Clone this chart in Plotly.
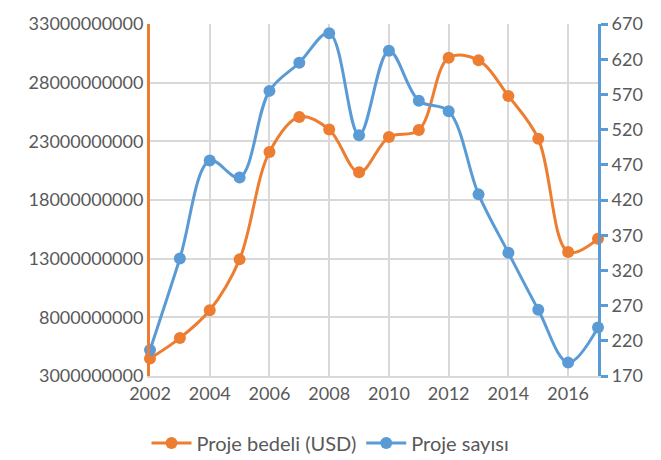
import plotly.graph_objects as go

years = list(range(2002, 2018))
proje_bedeli = [4.5e9, 6.23e9, 8.6e9, 12.94e9, 22.1e9, 25.08e9, 24.0e9, 20.36e9,
                23.37e9, 23.96e9, 30.13e9, 29.9e9, 26.87e9, 23.22e9, 13.56e9, 14.69e9]
proje_sayisi = [207, 337, 476, 452, 575, 615, 657, 512,
                632, 561, 546, 428, 345, 264, 189, 239]

left_ticks = [3000000000, 8000000000, 13000000000, 18000000000, 23000000000,
              28000000000, 33000000000]
right_ticks = [170, 220, 270, 320, 370, 420, 470, 520, 570, 620, 670]
x_ticks = [2002, 2004, 2006, 2008, 2010, 2012, 2014, 2016]

ORANGE = "#ED7D31"
BLUE = "#5B9BD5"
TEXT = "#595959"
GRID = "#D9D9D9"
FONT = "Lato"

fig = go.Figure()
fig.add_trace(go.Scatter(
    x=years, y=proje_bedeli, name="Proje bedeli (USD)",
    mode="lines+markers", line=dict(color=ORANGE, width=3, shape="spline", smoothing=1),
    marker=dict(color=ORANGE, size=12), yaxis="y", cliponaxis=False))
fig.add_trace(go.Scatter(
    x=years, y=proje_sayisi, name="Proje sayısı",
    mode="lines+markers", line=dict(color=BLUE, width=3, shape="spline", smoothing=1),
    marker=dict(color=BLUE, size=12), yaxis="y2", cliponaxis=False))

fig.update_layout(
    width=661, height=460,
    margin=dict(l=150, r=63, t=20, b=84),
    paper_bgcolor="white", plot_bgcolor="white",
    font=dict(family=FONT, size=18, color=TEXT),
    showlegend=True,
    legend=dict(orientation="h", xref="container", yref="container",
                x=0.5, xanchor="center", y=0.037, yanchor="middle",
                font=dict(family=FONT, size=20, color=TEXT),
                itemwidth=40),
    xaxis=dict(range=[2002, 2017], tickmode="array", tickvals=x_ticks,
               ticktext=[str(v) for v in x_ticks],
               showgrid=True, gridcolor=GRID, gridwidth=1.5,
               showline=True, linecolor=GRID, linewidth=2,
               ticks="", zeroline=False,
               tickfont=dict(family=FONT, size=18, color=TEXT)),
    yaxis=dict(range=[3e9, 33e9], tickmode="array", tickvals=left_ticks,
               ticktext=[str(v) for v in left_ticks],
               showgrid=True, gridcolor=GRID, gridwidth=1.5,
               showline=True, linecolor=ORANGE, linewidth=3,
               ticks="", zeroline=False,
               tickfont=dict(family=FONT, size=18, color=TEXT)),
    yaxis2=dict(range=[170, 670], tickmode="array", tickvals=right_ticks,
                ticktext=[str(v) for v in right_ticks],
                overlaying="y", side="right", showgrid=False,
                showline=True, linecolor=BLUE, linewidth=3,
                ticks="outside", ticklen=7, tickwidth=3, tickcolor=BLUE,
                zeroline=False,
                tickfont=dict(family=FONT, size=18, color=TEXT)),
)

fig.write_html("out.html")
